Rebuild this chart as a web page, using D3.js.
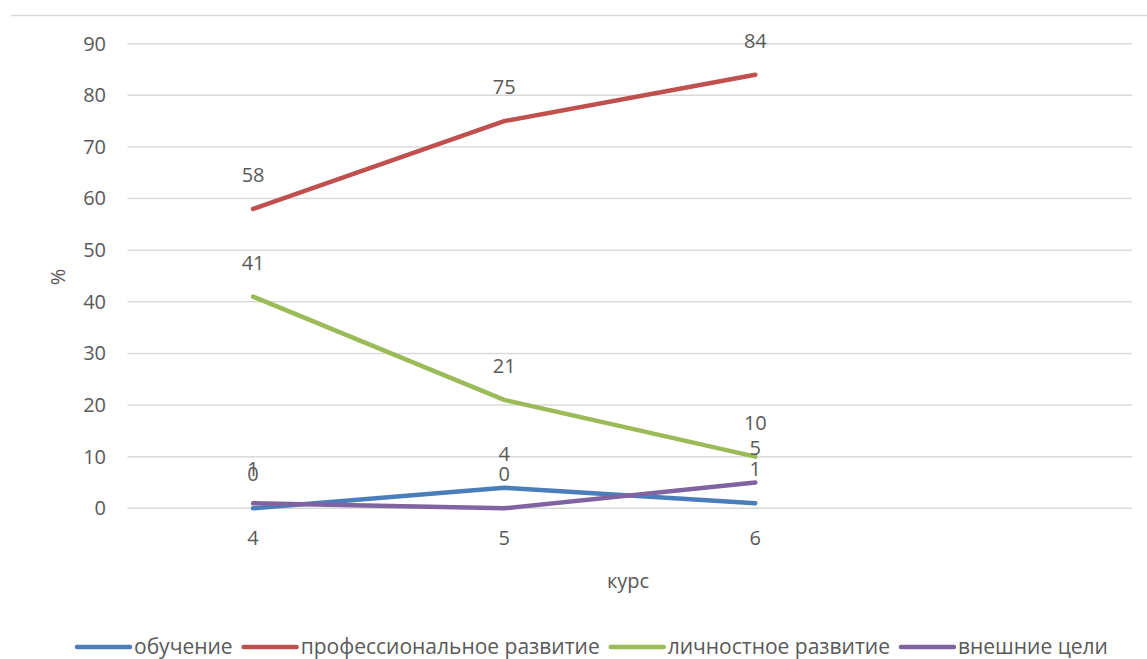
<!DOCTYPE html>
<html>
<head>
<meta charset="utf-8">
<script src="https://cdn.jsdelivr.net/npm/d3@7"></script>
<style>
  body { margin: 0; background: #fff; }
  text { font-family: "Open Sans", sans-serif; fill: #595959; }
</style>
</head>
<body>
<svg></svg>
<script>
// data
const courses = ["4", "5", "6", ""];
const seriesNames = ["обучение", "профессиональное развитие", "личностное развитие", "внешние цели"];
const learning = [0, 4, 1];
const professional = [58, 75, 84];
const personal = [41, 21, 10];
const external = [1, 0, 5];
const yTicks = [0, 10, 20, 30, 40, 50, 60, 70, 80, 90];

const colors = ["#4a7ebb", "#c0504d", "#9bbb59", "#8064a2"];
const series = [learning, professional, personal, external];

let width = 1147;
let height = 659;
let svg = d3.select("svg")
    .attr("width", width)
    .attr("height", height);

let x = d3.scaleBand()
    .domain(courses)
    .range([127.5, 1132]);

let y = d3.scaleLinear()
    .domain([0, 90])
    .range([508.3, 43.7]);

// frame line at the top
svg.append("line")
    .attr("x1", 11).attr("x2", width)
    .attr("y1", 15.5).attr("y2", 15.5)
    .attr("stroke", "#d9d9d9")
    .attr("stroke-width", 1.5);

// gridlines
svg.append("g")
    .selectAll("line")
    .data(yTicks)
    .enter()
    .append("line")
    .attr("x1", 127.5)
    .attr("x2", 1132)
    .attr("y1", d => y(d))
    .attr("y2", d => y(d))
    .attr("stroke", "#d9d9d9")
    .attr("stroke-width", 1.5);

// y axis
let yAxis = svg.append("g")
    .attr("transform", "translate(106,0)")
    .call(d3.axisLeft(y).tickValues(yTicks).tickSize(0).tickPadding(0));
yAxis.select(".domain").remove();
yAxis.selectAll("text")
    .attr("font-size", 20)
    .attr("fill", "#595959")
    .style("font-family", "Open Sans");

// x axis
let xAxis = svg.append("g")
    .attr("transform", "translate(0,531)")
    .call(d3.axisBottom(x).tickSize(0).tickPadding(0));
xAxis.select(".domain").remove();
xAxis.selectAll("text")
    .attr("font-size", 20)
    .attr("fill", "#595959")
    .style("font-family", "Open Sans");

// axis titles
svg.append("text")
    .attr("x", 628)
    .attr("y", 588)
    .attr("text-anchor", "middle")
    .attr("font-size", 20)
    .text("курс");

svg.append("text")
    .attr("transform", "translate(65,277) rotate(-90)")
    .attr("text-anchor", "middle")
    .attr("font-size", 20)
    .text("%");

// lines
let line = d3.line()
    .x((d, i) => x(courses[i]) + x.bandwidth() / 2)
    .y(d => y(d));

svg.append("g")
    .selectAll("path")
    .data(series)
    .enter()
    .append("path")
    .attr("d", d => line(d))
    .attr("fill", "none")
    .attr("stroke", (d, i) => colors[i])
    .attr("stroke-width", 4.5)
    .attr("stroke-linecap", "round")
    .attr("stroke-linejoin", "round");

// data labels
series.forEach((s, si) => {
    svg.append("g")
        .selectAll("text")
        .data(s)
        .enter()
        .append("text")
        .attr("x", (d, i) => x(courses[i]) + x.bandwidth() / 2)
        .attr("y", d => y(d) - 27)
        .attr("text-anchor", "middle")
        .attr("font-size", 20)
        .text(d => d);
});

// legend
let legend = svg.append("g").attr("transform", "translate(0,647)");
let lx = 75;
seriesNames.forEach((name, i) => {
    legend.append("line")
        .attr("x1", lx + 2).attr("x2", lx + 55)
        .attr("y1", 0).attr("y2", 0)
        .attr("stroke", colors[i])
        .attr("stroke-width", 4.5)
        .attr("stroke-linecap", "round");
    let t = legend.append("text")
        .attr("x", lx + 59)
        .attr("y", 7)
        .attr("font-size", 21)
        .text(name);
    lx += 59 + t.node().getComputedTextLength() + 9;
});
</script>
</body>
</html>
